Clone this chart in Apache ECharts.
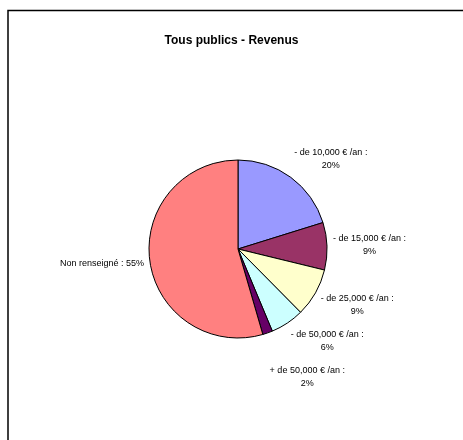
<!DOCTYPE html>
<html lang="fr">
<head>
<meta charset="utf-8">
<title>Tous publics - Revenus</title>
<script src="https://cdn.jsdelivr.net/npm/echarts@6/dist/echarts.min.js"></script>
<style>
  html, body { margin: 0; padding: 0; background: #fff; }
  #chart { width: 463px; height: 440px; }
</style>
</head>
<body>
<div id="chart"></div>
<script>
// donnees (parts en %)
var categories = ['- de 10,000 € /an', '- de 15,000 € /an', '- de 25,000 € /an',
                  '- de 50,000 € /an', '+ de 50,000 € /an', 'Non renseigné'];
var values = [20.2, 8.6, 8.8, 6.1, 1.8, 54.5];
var colors = ['#9999FF', '#993366', '#FFFFCC', '#CCFFFF', '#660066', '#FF8080'];

var CX = 238, CY = 249, R = 89;
var total = values.reduce(function (a, b) { return a + b; }, 0);

// angle milieu de chaque part (depuis le haut, sens horaire)
function midAngle(i) {
  var before = 0;
  for (var j = 0; j < i; j++) before += values[j];
  return (before + values[i] / 2) / total * Math.PI * 2;
}

// position naturelle de l'etiquette i, puis on pousse vers le bas si chevauchement
function labelPos(i, w, h) {
  var a = midAngle(i);
  var sx = Math.sin(a), sy = -Math.cos(a);
  var px = CX + (R + 6) * sx, py = CY + (R + 6) * sy;
  var ky = Math.max(-1, Math.min(1, sy * 1.5));
  var y = py + ky * h / 2;
  if (i > 0 && (Math.sin(midAngle(i - 1)) >= 0) === (sx >= 0)) {
    var prev = labelPos(i - 1, w, h);
    if (y < prev.y + h + 10) y = prev.y + h + 10;
  }
  return { x: px + (sx >= 0 ? 1 : -1) * w / 2, y: y };
}

var chart = echarts.init(document.getElementById('chart'));

chart.setOption({
  animation: false,
  title: {
    text: 'Tous publics - Revenus',
    left: 'center',
    top: 30,
    textStyle: { fontFamily: 'Arial, "Liberation Sans"', fontSize: 12, fontWeight: 'bold', color: '#000' }
  },
  graphic: [{
    type: 'rect',
    shape: { x: 8, y: 10.5, width: 470, height: 450 },
    style: { fill: 'none', stroke: '#000', lineWidth: 1.5 },
    silent: true
  }],
  series: [{
    type: 'pie',
    center: [CX, CY],
    radius: R,
    startAngle: 90,
    clockwise: true,
    avoidLabelOverlap: false,
    itemStyle: { borderColor: '#000', borderWidth: 1 },
    emphasis: { disabled: true },
    label: {
      show: true,
      position: 'outside',
      fontFamily: 'Arial, "Liberation Sans"',
      fontSize: 9,
      lineHeight: 13,
      color: '#000',
      formatter: function (p) {
        var pct = Math.round(p.value) + '%';
        // la grande part tient sur une ligne
        return p.dataIndex === categories.length - 1 ? p.name + ' : ' + pct : p.name + ' :\n' + pct;
      }
    },
    labelLine: { show: false },
    labelLayout: function (p) {
      var pos = labelPos(p.dataIndex, p.labelRect.width, p.labelRect.height);
      return { x: pos.x, y: pos.y, align: 'center', verticalAlign: 'middle' };
    },
    data: categories.map(function (c, i) {
      return { name: c, value: values[i], itemStyle: { color: colors[i] } };
    })
  }]
});
</script>
</body>
</html>
